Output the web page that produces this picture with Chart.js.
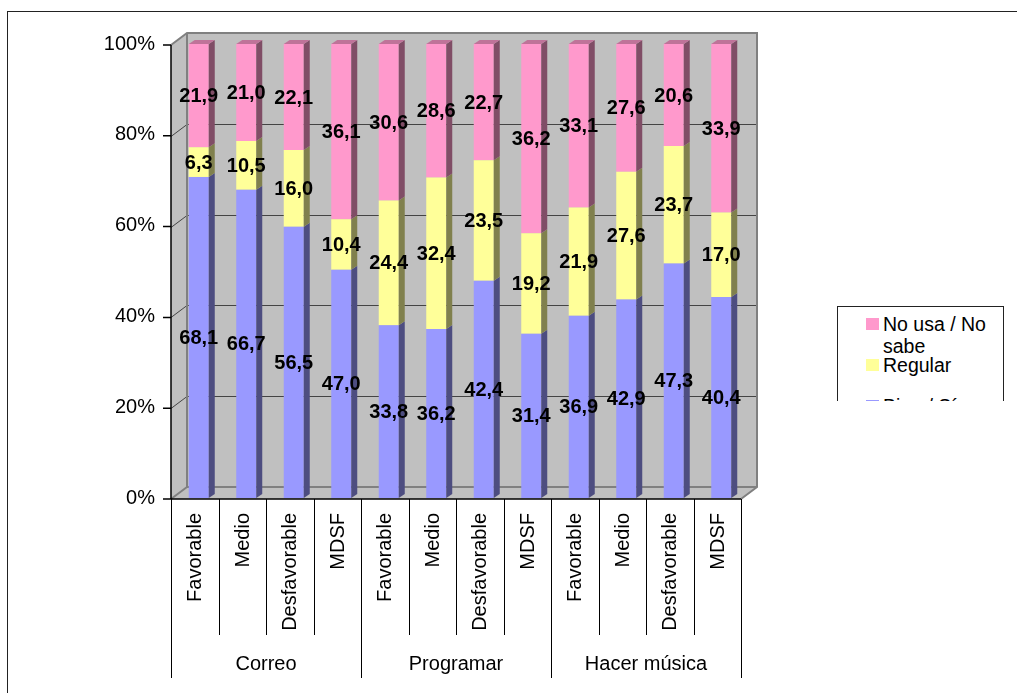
<!DOCTYPE html>
<html>
<head>
<meta charset="utf-8">
<script src="https://cdn.jsdelivr.net/npm/chart.js@4.4.1/dist/chart.umd.min.js"></script>
<style>
  body { margin: 0; background: #fff; font-family: 'Liberation Sans', Arial, sans-serif; }
  #marco { position: absolute; left: 7px; top: 11px; width: 1010px; height: 682px; border-left: 1.5px solid #222; border-top: 1.5px solid #222; }
  #grafico { position: absolute; left: 0; top: 0; }
  #leyenda { position: absolute; left: 837px; top: 306px; width: 165px; height: 94px; border: 1px solid #222; border-bottom: none; overflow: hidden; background: #fff; }
  .item { position: absolute; left: 28px; width: 132px; font-size: 19.5px; line-height: 22px; color: #000; }
  .item .cuadro { position: absolute; left: 0; top: 5px; width: 13px; height: 12px; }
  .item .texto { position: absolute; left: 17px; top: 0; width: 118px; }
</style>
</head>
<body>
<div id="marco"></div>
<canvas id="grafico" width="1017" height="693"></canvas>
<div id="leyenda"></div>
<script>
// Datos
const categorias = ['Favorable', 'Medio', 'Desfavorable', 'MDSF',
                    'Favorable', 'Medio', 'Desfavorable', 'MDSF',
                    'Favorable', 'Medio', 'Desfavorable', 'MDSF'];
const grupos = ['Correo', 'Programar', 'Hacer música'];
const bienSi = [68.1, 66.7, 56.5, 47.0, 33.8, 36.2, 42.4, 31.4, 36.9, 42.9, 47.3, 40.4];
const regular = [6.3, 10.5, 16.0, 10.4, 24.4, 32.4, 23.5, 19.2, 21.9, 27.6, 23.7, 17.0];
const noUsa = [21.9, 21.0, 22.1, 36.1, 30.6, 28.6, 22.7, 36.2, 33.1, 27.6, 20.6, 33.9];
const nombresSeries = ['Bien / Sí', 'Regular', 'No usa / No sabe'];

const colores = ['#9999FF', '#FFFF99', '#FF99CC'];
const coloresLado = ['#4D4D80', '#80804D', '#804D66'];
const colorTecho = '#BF7399';
const fuente = "'Liberation Sans', Arial, sans-serif";

// 100% apilado: cada barra se normaliza con su total
const totales = bienSi.map((v, i) => v + regular[i] + noUsa[i]);
const series = [bienSi, regular, noUsa];
const porcentajes = series.map(s => s.map((v, i) => v / totales[i] * 100));

const DX = 16, DY = -12;   // profundidad de las paredes
const BX = 6, BY = -4;     // profundidad de las barras

function marcoFrontal(chart) {
    const ca = chart.chartArea;
    return { L: ca.left - 4, R: ca.right - 4, T: ca.top + 1, B: ca.bottom + 1 };
}

// Paredes, suelo y líneas de división en 3D
const fondo3d = {
    id: 'fondo3d',
    beforeDatasetsDraw(chart) {
        const ctx = chart.ctx;
        const y = chart.scales.y;
        const { L, R, T, B } = marcoFrontal(chart);
        ctx.save();
        ctx.fillStyle = '#C0C0C0';
        ctx.fillRect(L + DX, T + DY, R - L, B - T);
        ctx.beginPath();
        ctx.moveTo(L, T); ctx.lineTo(L + DX, T + DY); ctx.lineTo(L + DX, B + DY); ctx.lineTo(L, B);
        ctx.closePath(); ctx.fill();
        ctx.beginPath();
        ctx.moveTo(L, B); ctx.lineTo(L + DX, B + DY); ctx.lineTo(R + DX, B + DY); ctx.lineTo(R, B);
        ctx.closePath(); ctx.fill();

        // líneas de división
        ctx.strokeStyle = '#444';
        ctx.lineWidth = 1;
        [20, 40, 60, 80].forEach(v => {
            const yy = Math.round(y.getPixelForValue(v)) + 1.5;
            ctx.beginPath();
            ctx.moveTo(L, yy); ctx.lineTo(L + DX, yy + DY); ctx.lineTo(R + DX, yy + DY);
            ctx.stroke();
        });

        // bordes grises de las paredes
        ctx.strokeStyle = '#808080';
        ctx.lineWidth = 2;
        ctx.beginPath();
        ctx.moveTo(L, T); ctx.lineTo(L + DX, T + DY); ctx.lineTo(R + DX, T + DY);
        ctx.lineTo(R + DX, B + DY); ctx.lineTo(R, B);
        ctx.moveTo(L + DX, T + DY); ctx.lineTo(L + DX, B + DY); ctx.lineTo(R + DX, B + DY);
        ctx.moveTo(L, B); ctx.lineTo(L + DX, B + DY);
        ctx.stroke();

        // eje vertical, marcas y borde frontal del suelo
        ctx.strokeStyle = '#000';
        ctx.lineWidth = 1.5;
        ctx.beginPath();
        ctx.moveTo(L, T); ctx.lineTo(L, B); ctx.lineTo(R, B);
        y.ticks.forEach(t => {
            const yy = y.getPixelForValue(t.value) + 1;
            ctx.moveTo(L - 8, yy); ctx.lineTo(L, yy);
        });
        ctx.stroke();
        ctx.restore();
    },
    afterDatasetsDraw(chart) {
        const ctx = chart.ctx;
        const ultima = chart.data.datasets.length - 1;
        ctx.save();
        chart.data.datasets.forEach((ds, di) => {
            chart.getDatasetMeta(di).data.forEach(bar => {
                const p = bar.getProps(['x', 'y', 'base', 'width'], true);
                const x1 = p.x - p.width / 2, x2 = p.x + p.width / 2;
                ctx.fillStyle = coloresLado[di];
                ctx.beginPath();
                ctx.moveTo(x2, p.y); ctx.lineTo(x2 + BX, p.y + BY);
                ctx.lineTo(x2 + BX, p.base + BY); ctx.lineTo(x2, p.base);
                ctx.closePath(); ctx.fill();
                if (di === ultima) {
                    ctx.fillStyle = colorTecho;
                    ctx.beginPath();
                    ctx.moveTo(x1, p.y); ctx.lineTo(x1 + BX, p.y + BY);
                    ctx.lineTo(x2 + BX, p.y + BY); ctx.lineTo(x2, p.y);
                    ctx.closePath(); ctx.fill();
                }
            });
        });
        ctx.restore();
    },
    afterDraw(chart) {
        const ctx = chart.ctx;
        const x = chart.scales.x;
        const { L, B } = marcoFrontal(chart);
        const paso = x.width / categorias.length;
        ctx.save();

        // separadores de categorías y grupos
        ctx.strokeStyle = '#000';
        ctx.lineWidth = 1;
        for (let k = 0; k <= categorias.length; k++) {
            const xx = Math.round(L + k * paso) + 0.5;
            const largo = (k % 4 === 0) ? 179 : 136;
            ctx.beginPath();
            ctx.moveTo(xx, B); ctx.lineTo(xx, B + largo);
            ctx.stroke();
        }

        // etiquetas de categoría giradas
        ctx.fillStyle = '#000';
        ctx.font = '20px ' + fuente;
        categorias.forEach((c, i) => {
            const xx = x.getPixelForValue(i) - 4;
            ctx.save();
            ctx.translate(xx + 1, B + 14);
            ctx.rotate(-Math.PI / 2);
            ctx.textAlign = 'right';
            ctx.textBaseline = 'middle';
            ctx.fillText(c, 0, 0);
            ctx.restore();
        });
        ctx.textAlign = 'center';
        ctx.textBaseline = 'middle';
        grupos.forEach((g, gi) => {
            const xx = L + (gi * 4 + 2) * paso;
            ctx.fillText(g, xx, B + 165);
        });

        // valores de cada segmento
        ctx.font = 'bold 20px ' + fuente;
        chart.data.datasets.forEach((ds, di) => {
            chart.getDatasetMeta(di).data.forEach((bar, i) => {
                const p = bar.getProps(['x', 'y', 'base'], true);
                const texto = series[di][i].toFixed(1).replace('.', ',');
                ctx.fillText(texto, p.x, (p.y + p.base) / 2 + 1);
            });
        });
        ctx.restore();
    }
};

const ctx = document.getElementById('grafico').getContext('2d');
new Chart(ctx, {
    type: 'bar',
    data: {
        labels: categorias,
        datasets: porcentajes.map((d, i) => ({
            label: nombresSeries[i],
            data: d,
            backgroundColor: colores[i],
            borderWidth: 0,
            barPercentage: 20 / 47.5,
            categoryPercentage: 1
        }))
    },
    options: {
        responsive: false,
        animation: false,
        layout: { padding: { left: 0, top: 44, right: 272, bottom: 195 } },
        plugins: { legend: { display: false }, tooltip: { enabled: false } },
        scales: {
            x: { stacked: true, display: false },
            y: {
                stacked: true,
                min: 0,
                max: 100,
                grid: { display: false, drawTicks: false },
                border: { display: false },
                ticks: {
                    stepSize: 20,
                    padding: 20,
                    color: '#000',
                    font: { family: fuente, size: 20 },
                    callback: v => v + '%'
                },
                afterFit(scale) { scale.width = 175; }
            }
        }
    },
    plugins: [fondo3d]
});

// Leyenda (recortada como en el original)
const leyenda = document.getElementById('leyenda');
[2, 1, 0].forEach((si, n) => {
    const item = document.createElement('div');
    item.className = 'item';
    item.style.top = (6 + n * 41) + 'px';
    item.innerHTML = '<span class="cuadro" style="background:' + colores[si] + '"></span>' +
                     '<span class="texto">' + nombresSeries[si] + '</span>';
    leyenda.appendChild(item);
});
</script>
</body>
</html>
